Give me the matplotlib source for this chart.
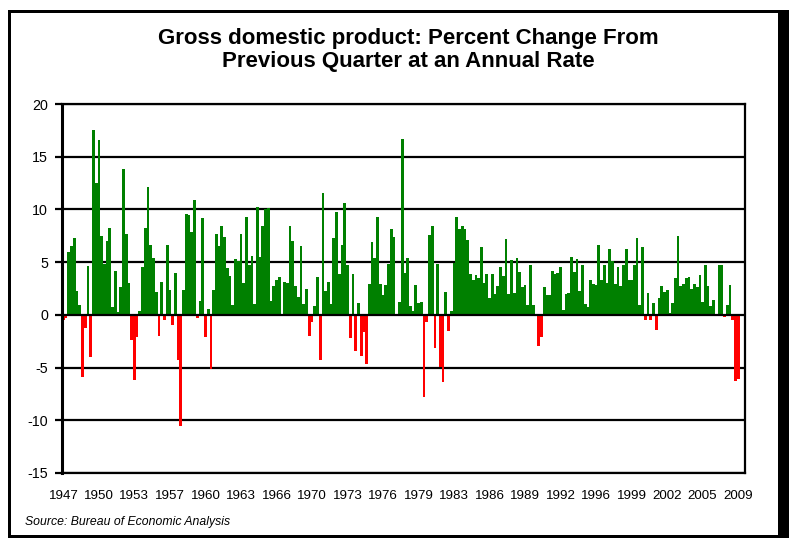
import matplotlib
matplotlib.use("Agg")
import matplotlib.pyplot as plt
from matplotlib.patches import Rectangle
import numpy as np

plt.rcParams['font.family'] = ['Liberation Sans', 'DejaVu Sans']

# Quarterly real GDP % change (annual rate), 1947Q2 .. 2009Q1
gdp_change = [
    -0.5, -0.3, 6.0,                 # 1947 Q2-Q4
    6.5, 7.3, 2.3, 0.9,              # 1948
    -5.9, -1.2, 4.6, -4.0,           # 1949
    17.5, 12.5, 16.6, 7.5,           # 1950
    4.8, 7.0, 8.2, 0.7,              # 1951
    4.2, 0.3, 2.6, 13.8,             # 1952
    7.7, 3.0, -2.4, -6.2,            # 1953
    -2.1, 0.4, 4.5, 8.2,             # 1954
    12.1, 6.6, 5.4, 2.2,             # 1955
    -2.0, 3.1, -0.5, 6.6,            # 1956
    2.4, -1.0, 4.0, -4.3,            # 1957
    -10.5, 2.4, 9.6, 9.5,            # 1958
    7.9, 10.9, -0.3, 1.3,            # 1959
    9.2, -2.1, 0.6, -5.1,            # 1960
    2.4, 7.7, 6.5, 8.4,              # 1961
    7.4, 4.4, 3.7, 0.9,              # 1962
    5.3, 5.1, 7.7, 3.0,              # 1963
    9.3, 4.7, 5.6, 1.0,              # 1964
    10.2, 5.5, 8.4, 10.0,            # 1965
    10.1, 1.3, 2.7, 3.3,             # 1966
    3.6, 0.1, 3.1, 3.0,              # 1967
    8.4, 7.0, 2.7, 1.7,              # 1968
    6.5, 1.0, 2.5, -2.0,             # 1969
    -0.7, 0.8, 3.6, -4.3,            # 1970
    11.6, 2.3, 3.1, 1.0,             # 1971
    7.3, 9.8, 3.9, 6.6,              # 1972
    10.6, 4.7, -2.2, 3.9,            # 1973
    -3.4, 1.1, -3.9, -1.6,           # 1974
    -4.7, 2.9, 6.9, 5.4,             # 1975
    9.3, 2.9, 1.9, 2.8,              # 1976
    4.8, 8.1, 7.4, 0.0,              # 1977
    1.2, 16.7, 4.0, 5.4,             # 1978
    0.8, 0.4, 2.8, 1.1,              # 1979
    1.2, -7.8, -0.7, 7.6,            # 1980
    8.4, -3.1, 4.8, -4.9,            # 1981
    -6.4, 2.2, -1.5, 0.4,            # 1982
    4.9, 9.3, 8.1, 8.4,              # 1983
    8.1, 7.1, 3.9, 3.3,              # 1984
    3.8, 3.5, 6.4, 3.0,              # 1985
    3.9, 1.6, 3.9, 2.0,              # 1986
    2.7, 4.5, 3.7, 7.2,              # 1987
    2.0, 5.2, 2.1, 5.4,              # 1988
    4.1, 2.6, 2.8, 0.9,              # 1989
    4.7, 0.9, 0.0, -3.0,             # 1990
    -2.1, 2.6, 1.9, 1.9,             # 1991
    4.2, 3.9, 4.0, 4.5,              # 1992
    0.5, 2.0, 2.1, 5.5,              # 1993
    4.1, 5.3, 2.3, 4.7,              # 1994
    1.0, 0.7, 3.3, 2.9,              # 1995
    2.8, 6.6, 3.3, 4.7,              # 1996
    3.0, 6.2, 5.1, 2.9,              # 1997
    4.5, 2.7, 4.7, 6.2,              # 1998
    3.3, 3.3, 4.7, 7.3,              # 1999
    0.9, 6.4, -0.5, 2.1,             # 2000
    -0.5, 1.1, -1.4, 1.6,            # 2001
    2.7, 2.2, 2.4, 0.2,              # 2002
    1.1, 3.5, 7.5, 2.7,              # 2003
    2.9, 3.5, 3.6, 2.5,              # 2004
    2.9, 2.6, 3.8, 1.2,              # 2005
    4.7, 2.7, 0.8, 1.4,              # 2006
    0.1, 4.7, 4.7, -0.2,             # 2007
    0.9, 2.8, -0.5, -6.3,            # 2008
    -6.1,                            # 2009 Q1
]

tick_years = ["1947", "1950", "1953", "1957", "1960", "1963", "1966", "1970",
              "1973", "1976", "1979", "1983", "1986", "1989", "1992", "1996",
              "1999", "2002", "2005", "2009"]
tick_every = 13
y_ticks = [-15, -10, -5, 0, 5, 10, 15, 20]

title = "Gross domestic product: Percent Change From\nPrevious Quarter at an Annual Rate"
source = "Source: Bureau of Economic Analysis"

W, H = 789, 538
fig = plt.figure(figsize=(W / 100, H / 100), dpi=100)
fig.patch.set_facecolor("white")

def fig_rect(x0, y0, x1, y1, **kw):
    return Rectangle((x0 / W, 1 - y1 / H), (x1 - x0) / W, (y1 - y0) / H,
                     transform=fig.transFigure, **kw)

# outer frame with shadow
for r in [(8, 10, 11, 538), (8, 10, 789, 13), (778, 10, 789, 538), (8, 535, 789, 538)]:
    fig.patches.append(fig_rect(*r, facecolor="black", edgecolor="none"))

L, R, T, B = 62, 745, 104, 473
ax = fig.add_axes([L / W, 1 - B / H, (R - L) / W, (B - T) / H])

vals = np.array(gdp_change)
x = np.arange(len(vals))
colors = ["#008000" if v >= 0 else "#FF0000" for v in vals]
ax.bar(x, vals, width=1.0, color=colors, linewidth=0, zorder=2)

ax.set_xlim(-0.5, 249.5)
ax.set_ylim(-15, 20)
for v in y_ticks:
    ax.axhline(v, color="black", lw=1.6, zorder=1 if v != 0 else 3)

ax.set_yticks(y_ticks)
ax.set_yticklabels([str(v) for v in y_ticks], fontsize=10.3)
ax.tick_params(axis="y", direction="out", length=5, width=1.6, pad=5, color="black")

ax.set_xticks(np.arange(len(tick_years)) * tick_every)
ax.set_xticklabels(tick_years, fontsize=9.6)
ax.tick_params(axis="x", length=0, pad=12)

for s in ["left", "right", "top", "bottom"]:
    ax.spines[s].set_color("black")
    ax.spines[s].set_linewidth(1.6)
ax.spines["left"].set_linewidth(2.2)

fig.text(408 / W, 1 - 50 / H, title, ha="center", va="center", fontsize=16,
         fontweight="bold", linespacing=1.15)
fig.text(25 / W, 1 - 522 / H, source, ha="left", va="center", fontsize=8.8,
         style="italic")

fig.savefig("out.png", dpi=100)
